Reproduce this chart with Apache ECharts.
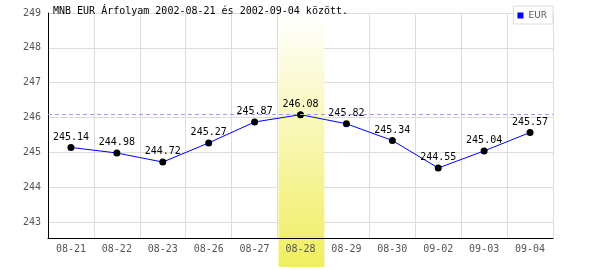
<!DOCTYPE html>
<html>
<head>
<meta charset="utf-8">
<script src="https://cdn.jsdelivr.net/npm/echarts@6/dist/echarts.min.js"></script>
<style>
html,body{margin:0;padding:0;background:#fff;}
#chart{width:600px;height:270px;}
</style>
</head>
<body>
<div id="chart"></div>
<script>
const titleText = 'MNB EUR Árfolyam 2002-08-21 és 2002-09-04 között.';
const seriesName = 'EUR';
const categories = ['08-21','08-22','08-23','08-26','08-27','08-28','08-29','08-30','09-02','09-03','09-04'];
const values = [245.14, 244.98, 244.72, 245.27, 245.87, 246.08, 245.82, 245.34, 244.55, 245.04, 245.57];
const yTicks = [243, 244, 245, 246, 247, 248, 249];
const yMin = 242.54;
const yMax = 249;
const refLine = 246.08;
const highlightCategory = '08-28';

const mono = 'DejaVu Sans Mono';
const grid = {left: 48, right: 47, top: 13, bottom: 32};

const chart = echarts.init(document.getElementById('chart'), null, {renderer: 'canvas'});

const option = {
  animation: false,
  backgroundColor: '#fff',
  title: {
    text: titleText, left: 53, top: 6, padding: 0,
    textStyle: {fontFamily: mono, fontSize: 10, fontWeight: 'normal', color: '#000'}
  },
  legend: {
    data: [{name: seriesName, itemStyle: {color: '#0000ff'}}], right: 47, top: 6, orient: 'vertical',
    padding: [5, 6, 4, 4], itemWidth: 6, itemHeight: 6, icon: 'rect',
    borderColor: '#dddddd', borderWidth: 1, backgroundColor: '#fff', borderRadius: 0,
    textStyle: {fontFamily: 'DejaVu Sans', fontSize: 9, color: '#555'}, z: 10
  },
  grid: Object.assign({containLabel: false}, grid),
  xAxis: [
    {
      type: 'category', data: categories, boundaryGap: true, z: 0,
      axisLine: {show: false}, axisTick: {show: false}, axisLabel: {show: false},
      splitLine: {show: true, lineStyle: {color: '#dddddd', width: 1}}
    },
    {
      type: 'category', data: categories, boundaryGap: true, position: 'bottom', z: 3,
      axisLine: {show: true, lineStyle: {color: '#000', width: 1}},
      axisTick: {show: false}, splitLine: {show: false},
      axisLabel: {margin: 6, fontFamily: mono, fontSize: 10, color: '#555'}
    }
  ],
  yAxis: [
    {
      type: 'value', min: yMin, max: yMax, z: 0,
      axisLine: {show: false}, axisTick: {show: false, customValues: yTicks},
      axisLabel: {show: false, customValues: yTicks},
      splitLine: {show: true, lineStyle: {color: '#dddddd', width: 1}}
    },
    {
      type: 'value', min: yMin, max: yMax, position: 'left', z: 3,
      axisLine: {show: true, lineStyle: {color: '#000', width: 1}},
      axisTick: {show: false, customValues: yTicks},
      splitLine: {show: false},
      axisLabel: {customValues: yTicks, margin: 7, fontFamily: mono, fontSize: 10, color: '#555'}
    }
  ],
  series: [
    {
      name: 'ref', type: 'line', data: values, z: 0, silent: true,
      symbol: 'none', lineStyle: {opacity: 0}, tooltip: {show: false},
      markLine: {
        silent: true, symbol: 'none', label: {show: false},
        lineStyle: {color: '#9999ff', type: [4, 3], width: 1},
        data: [{yAxis: refLine}]
      }
    },
    {
      name: seriesName, type: 'line', data: values, z: 4,
      color: '#0000ff',
      lineStyle: {color: '#0000ff', width: 1},
      symbol: 'circle', symbolSize: 7,
      itemStyle: {color: '#000', borderWidth: 0},
      label: {show: true, position: 'top', distance: 2, fontFamily: mono, fontSize: 10, color: '#000',
              formatter: p => p.value.toFixed(2)}
    }
  ]
};
chart.setOption(option);

// highlight band computed through the axis scales
const cIdx = categories.indexOf(highlightCategory);
const xa = chart.convertToPixel({xAxisIndex: 0}, categories[cIdx]);
const xb = chart.convertToPixel({xAxisIndex: 0}, categories[cIdx > 0 ? cIdx - 1 : cIdx + 1]);
const step = Math.abs(xa - xb);
const yTop = chart.convertToPixel({yAxisIndex: 0}, yMax);
chart.setOption({
  graphic: [{
    type: 'rect', z: 1, silent: true,
    shape: {x: Math.round(xa - step / 2) + 0.5, y: yTop, width: step, height: 267 - yTop},
    style: {
      fill: new echarts.graphic.LinearGradient(0, 0, 0, 1, [
        {offset: 0, color: '#ffffff'},
        {offset: 1, color: '#f0ee60'}
      ])
    }
  }]
});
</script>
</body>
</html>
